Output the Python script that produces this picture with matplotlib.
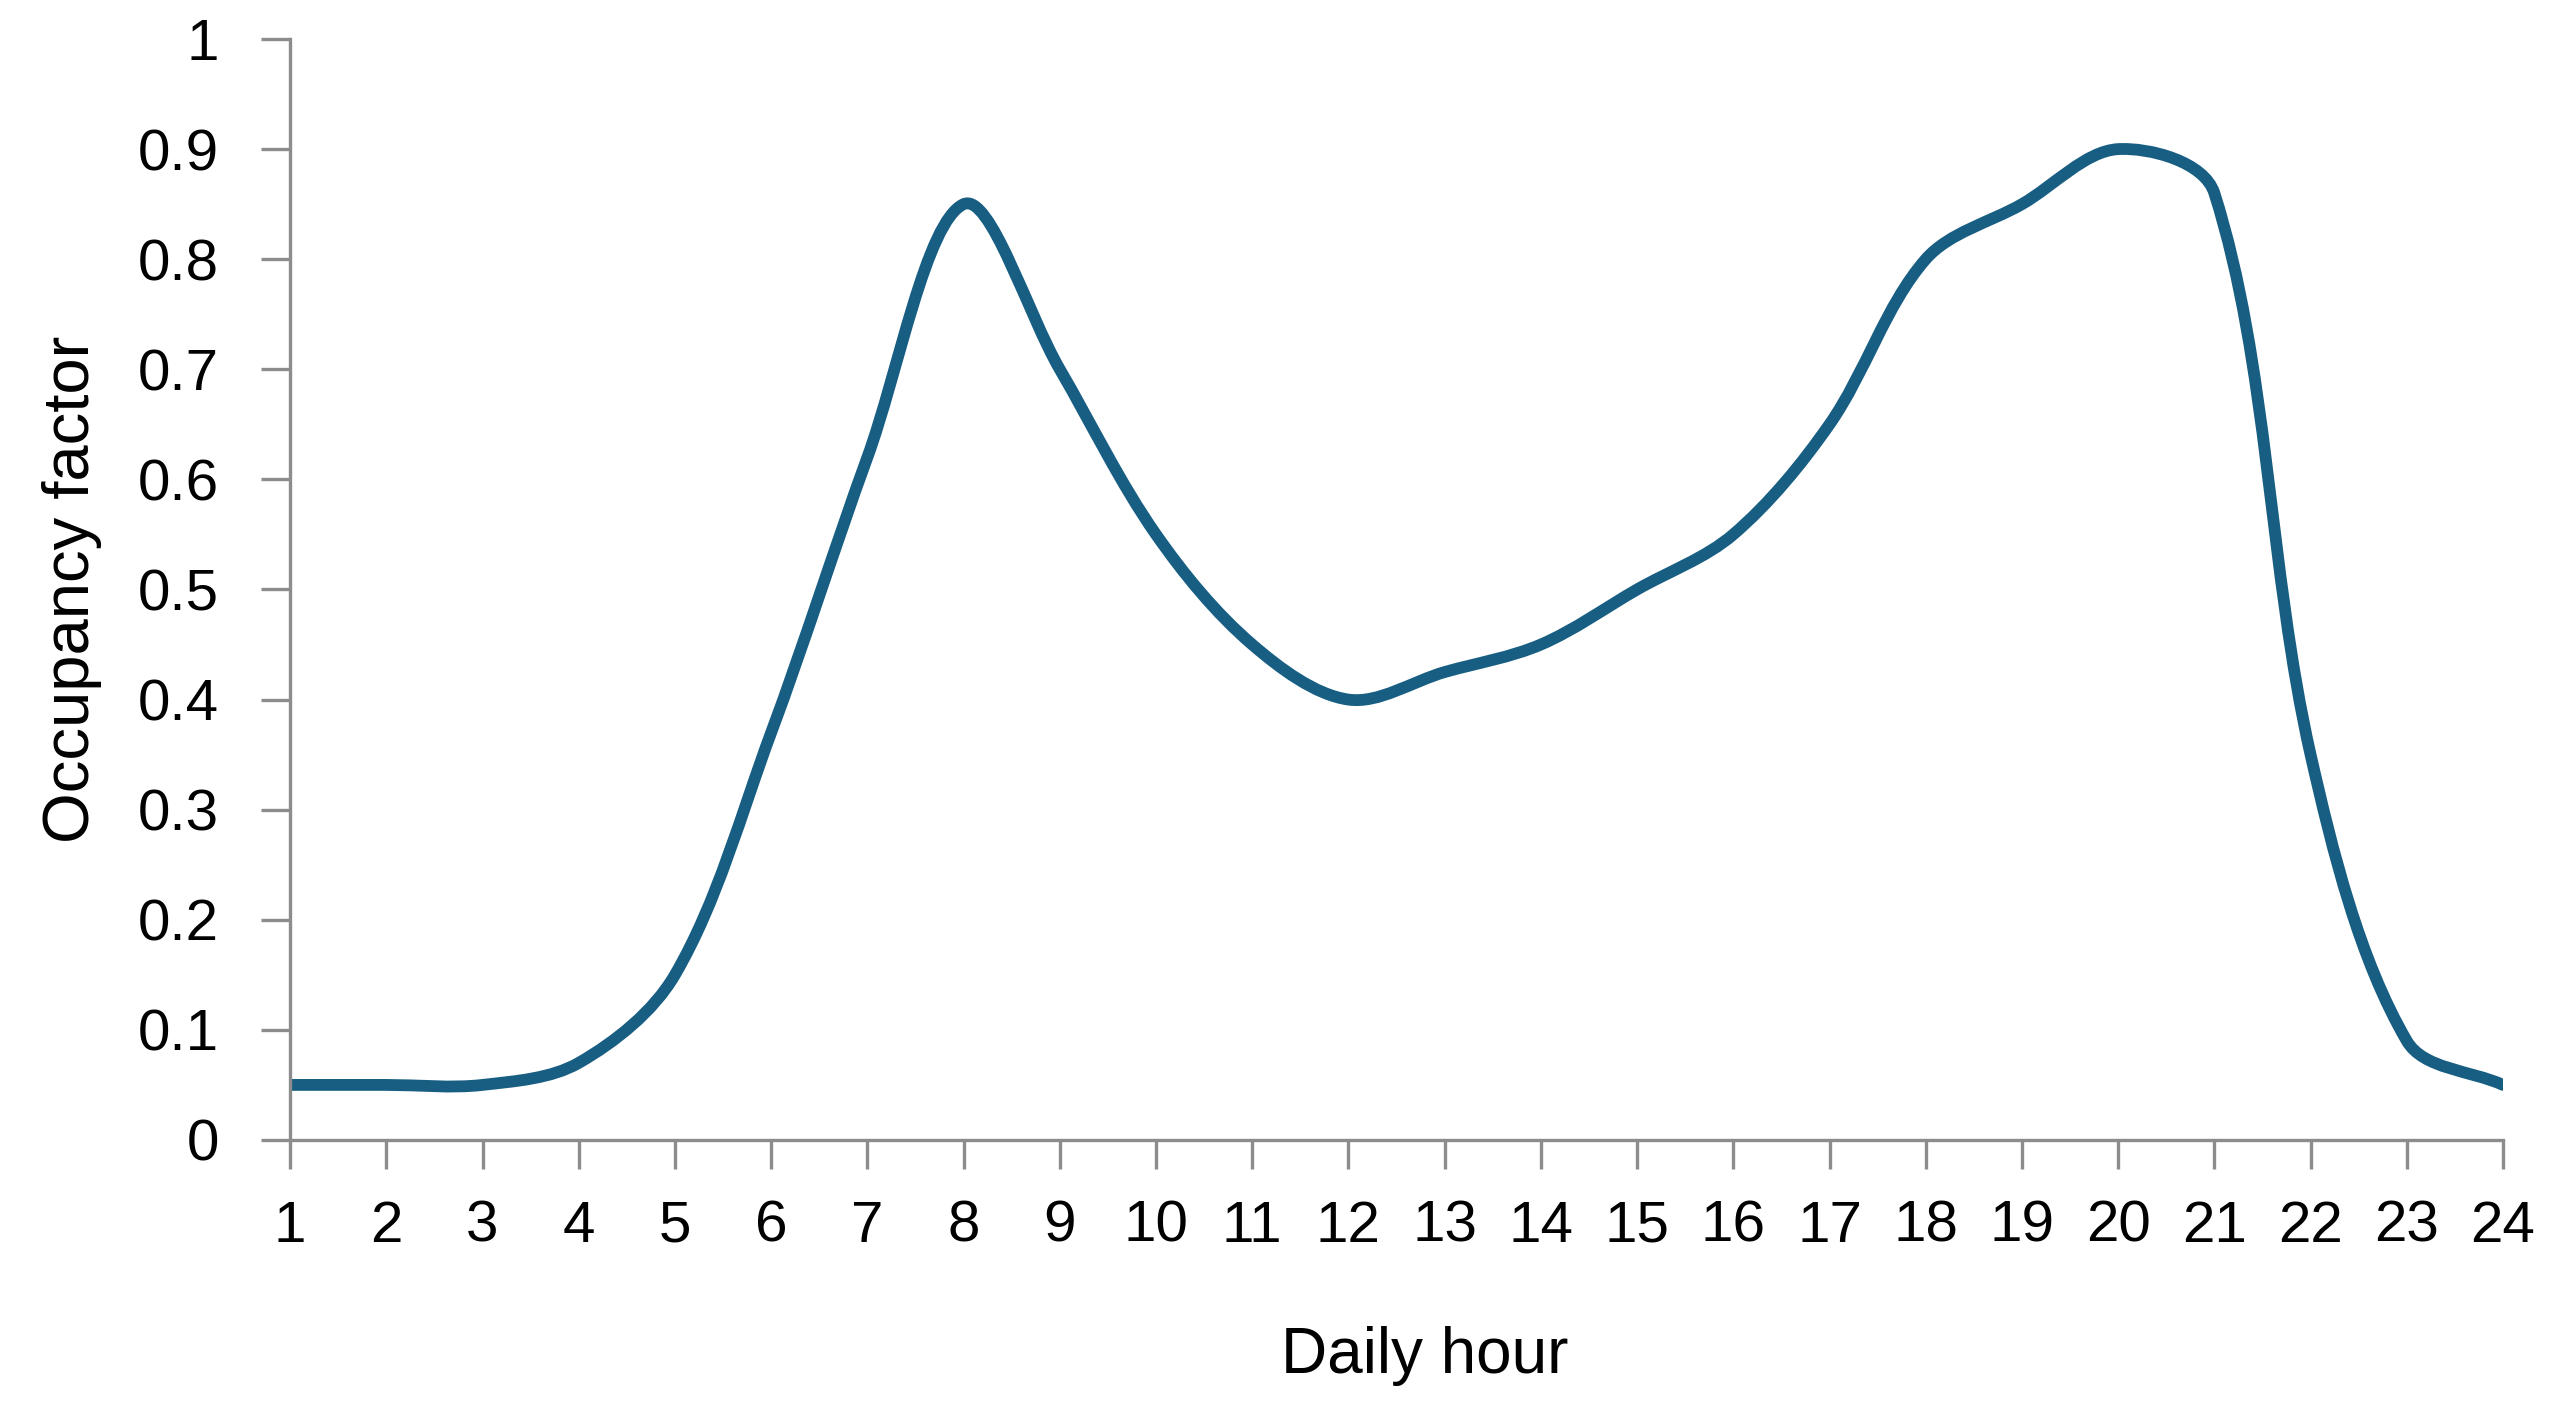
import numpy as np
import matplotlib
matplotlib.use("Agg")
import matplotlib.pyplot as plt
from matplotlib.path import Path
from matplotlib.patches import PathPatch

# hourly occupancy profile
HOURS = list(range(1, 25))
OCCUPANCY = [0.05, 0.05, 0.05, 0.07, 0.15, 0.37, 0.62, 0.85, 0.70, 0.55, 0.45, 0.40,
             0.425, 0.45, 0.50, 0.55, 0.65, 0.80, 0.85, 0.90, 0.86, 0.35, 0.09, 0.05]
Y_TICKS = [0, 0.1, 0.2, 0.3, 0.4, 0.5, 0.6, 0.7, 0.8, 0.9, 1]
Y_TICK_LABELS = ["0", "0.1", "0.2", "0.3", "0.4", "0.5", "0.6", "0.7", "0.8", "0.9", "1"]

LINE = "#175E82"
AXIS = "#8C8C8C"

plt.rcParams["font.family"] = ["Liberation Sans", "DejaVu Sans"]


def smooth_path(x, y, sx=96.0, sy=1101.0):
    # Excel-like smoothed line: cubic Bezier, tangents weighted by chord length
    # (worked out in approx. pixel space, then mapped back to data units)
    p = np.column_stack([np.asarray(x, float) * sx, np.asarray(y, float) * sy])
    n = len(p)
    L = np.hypot(*np.diff(p, axis=0).T)
    verts, codes = [p[0]], [Path.MOVETO]
    for i in range(n - 1):
        a, b = p[i], p[i + 1]
        if i > 0:
            d = p[i + 1] - p[i - 1]
            c1 = a + d * L[i] / (L[i - 1] + L[i]) / 3
        else:
            c1 = a + (b - a) / 3
        if i + 2 < n:
            d = p[i + 2] - p[i]
            c2 = b - d * L[i] / (L[i] + L[i + 1]) / 3
        else:
            c2 = b - (b - a) / 3
        verts += [c1, c2, b]
        codes += [Path.CURVE4] * 3
    verts = np.array(verts) / [sx, sy]
    return Path(verts, codes)


fig = plt.figure(figsize=(25.58, 14.14), dpi=100)
ax = fig.add_axes([0.1134, 0.1938, 0.8651, 0.7786])

ax.add_patch(PathPatch(smooth_path(HOURS, OCCUPANCY), facecolor="none",
                       edgecolor=LINE, lw=8.5, capstyle="round", joinstyle="round"))

ax.set_xlim(1, 24)
ax.set_ylim(0, 1)
ax.set_xticks(HOURS)
ax.set_xticklabels([str(h) for h in HOURS])
ax.set_yticks(Y_TICKS)
ax.set_yticklabels(Y_TICK_LABELS)

for s in ("top", "right"):
    ax.spines[s].set_visible(False)
for s in ("left", "bottom"):
    ax.spines[s].set_color(AXIS)
    ax.spines[s].set_linewidth(2.4)
ax.tick_params(axis="both", colors=AXIS, width=2.4, length=21, labelsize=42,
               labelcolor="black")
ax.tick_params(axis="x", pad=22)
ax.tick_params(axis="y", pad=30)

ax.set_xlabel("Daily hour", fontsize=46, labelpad=52)
ax.xaxis.label.set_x(0.5125)
ax.set_ylabel("Occupancy factor", fontsize=47, labelpad=26)

fig.savefig("out.png", dpi=100)
